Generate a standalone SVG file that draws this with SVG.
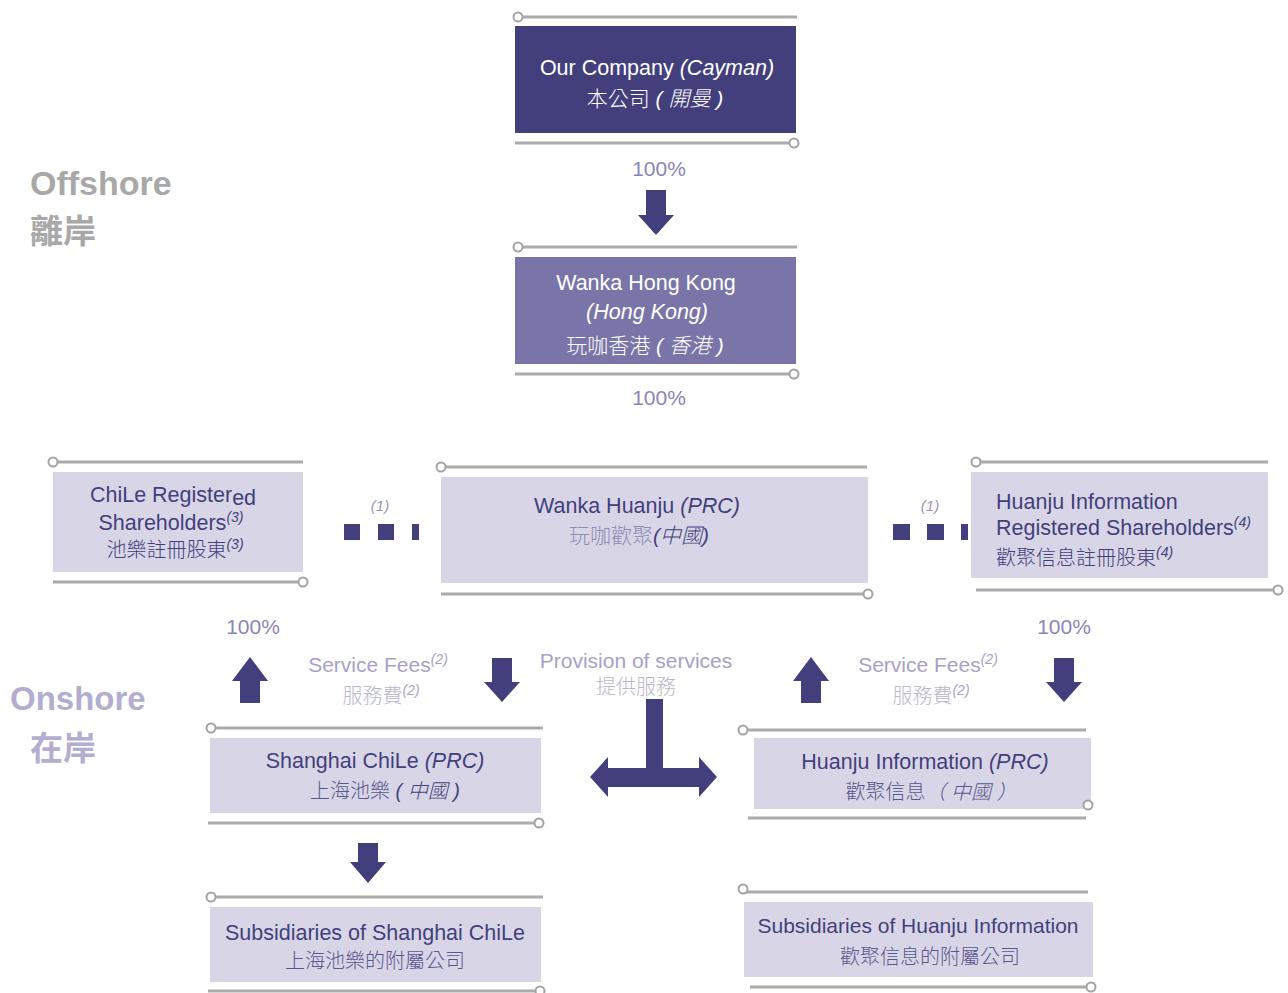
<svg xmlns="http://www.w3.org/2000/svg" width="1288" height="993" viewBox="0 0 1288 993">
<style>
text{font-family:"Liberation Sans","Noto Sans CJK TC",sans-serif;}
.ln{stroke:#ababab;stroke-width:3;fill:none}
.dot{fill:#fff;stroke:#a3a3a3;stroke-width:2}
.dark{fill:#433f7d}
.box{fill:#d8d6e6}
.t{font-size:21.5px;fill:#433f7d;text-anchor:middle}
.tw{font-size:21.5px;fill:#fff;text-anchor:middle}
.cj{font-size:20px;fill:#5a5690;text-anchor:middle;font-weight:300}
.pct{font-size:21px;fill:#8a85b9;text-anchor:middle}
.lbl{font-size:21px;fill:#a6a1c9;text-anchor:middle}
.lblc{font-size:20px;fill:#b9b7c9;text-anchor:middle;font-weight:300}
.sup{font-size:14px;font-style:italic}
.arr{fill:#433f7d}
.i{font-style:italic}
</style>

<g id="region-labels">
<text x="30" y="195" font-size="34" font-weight="bold" fill="#a8a8a8">Offshore</text>
<text x="30" y="243" font-size="33" font-weight="bold" fill="#a8a8a8">離岸</text>
<text x="10" y="710" font-size="33" font-weight="bold" fill="#b3aed0">Onshore</text>
<text x="30" y="760" font-size="33" font-weight="bold" fill="#b3aed0">在岸</text>
</g>

<g id="node-our-company">
<line class="ln" x1="518" y1="17" x2="797" y2="17"/><circle class="dot" cx="518" cy="17" r="4.5"/>
<rect x="515" y="26" width="281" height="107" fill="#433f7d"/>
<line class="ln" x1="515" y1="143" x2="794" y2="143"/><circle class="dot" cx="794" cy="143" r="4.5"/>
<text class="tw" x="657" y="75">Our Company <tspan class="i">(Cayman)</tspan></text>
<text class="tw" x="655" y="106" style="font-weight:300;font-size:21px">本公司<tspan class="i"> ( 開曼 )</tspan></text>
</g>

<g id="node-wanka-hk">
<line class="ln" x1="518" y1="247" x2="797" y2="247"/><circle class="dot" cx="518" cy="247" r="4.5"/>
<rect x="515" y="257" width="281" height="107" fill="#7a75a8"/>
<line class="ln" x1="515" y1="374" x2="794" y2="374"/><circle class="dot" cx="794" cy="374" r="4.5"/>
<text class="tw" x="646" y="290">Wanka Hong Kong</text>
<text class="tw" x="647" y="319"><tspan class="i">(Hong Kong)</tspan></text>
<text class="tw" x="645" y="353" style="font-weight:300;font-size:21px">玩咖香港<tspan class="i"> ( 香港 )</tspan></text>
</g>

<g id="node-chile-shareholders">
<line class="ln" x1="53" y1="462" x2="303" y2="462"/><circle class="dot" cx="53" cy="462" r="4.5"/>
<rect class="box" x="53" y="472" width="250" height="100"/>
<line class="ln" x1="53" y1="582" x2="303" y2="582"/><circle class="dot" cx="303" cy="582" r="4.5"/>
<text class="t" x="173" y="502">ChiLe Register<tspan dy="3">ed</tspan></text>
<text class="t" x="171" y="530">Shareholders<tspan class="sup" dy="-8">(3)</tspan></text>
<text class="t" x="175" y="557" style="font-size:20px;font-weight:300">池樂註冊股東<tspan class="sup" dy="-8">(3)</tspan></text>
</g>

<g id="node-wanka-huanju">
<line class="ln" x1="441" y1="467" x2="867" y2="467"/><circle class="dot" cx="441" cy="467" r="4.5"/>
<rect class="box" x="441" y="477" width="427" height="106"/>
<line class="ln" x1="441" y1="594" x2="866" y2="594"/><circle class="dot" cx="868" cy="594" r="4.5"/>
<text class="t" x="637" y="513">Wanka Huanju <tspan class="i">(PRC)</tspan></text>
<text class="cj" x="639" y="543" style="fill:#8f8bb5;font-size:21px">玩咖歡聚<tspan class="i" style="fill:#433f7d">(中國)</tspan></text>
</g>

<g id="node-huanju-shareholders">
<line class="ln" x1="976" y1="462" x2="1268" y2="462"/><circle class="dot" cx="976" cy="462" r="4.5"/>
<rect class="box" x="971" y="472" width="297" height="106"/>
<line class="ln" x1="976" y1="590" x2="1276" y2="590"/><circle class="dot" cx="1278" cy="590" r="4.5"/>
<text class="t" x="996" y="509" style="text-anchor:start">Huanju Information</text>
<text class="t" x="996" y="535" style="text-anchor:start">Registered Shareholders<tspan class="sup" dy="-8">(4)</tspan></text>
<text class="t" x="996" y="565" style="text-anchor:start;font-size:20px;font-weight:300">歡聚信息註冊股東<tspan class="sup" dy="-8">(4)</tspan></text>
</g>

<g id="node-shanghai-chile">
<line class="ln" x1="211" y1="728" x2="543" y2="728"/><circle class="dot" cx="211" cy="728" r="4.5"/>
<rect class="box" x="210" y="738" width="331" height="75"/>
<line class="ln" x1="208" y1="823" x2="537" y2="823"/><circle class="dot" cx="539" cy="823" r="4.5"/>
<text class="t" x="375" y="768">Shanghai ChiLe <tspan class="i">(PRC)</tspan></text>
<text class="cj" x="385" y="798">上海池樂<tspan class="i" style="fill:#433f7d"> ( 中國 )</tspan></text>
</g>

<g id="node-huanju-info">
<line class="ln" x1="743" y1="730" x2="1086" y2="730"/><circle class="dot" cx="743" cy="730" r="4.5"/>
<rect class="box" x="754" y="738" width="337" height="71"/>
<circle class="dot" cx="1088" cy="805" r="4.5"/>
<line class="ln" x1="748" y1="818" x2="1086" y2="818"/>
<text class="t" x="925" y="769">Huanju Information <tspan class="i">(PRC)</tspan></text>
<text class="cj" x="931" y="799">歡聚信息<tspan class="i">（ 中國 ）</tspan></text>
</g>

<g id="node-subs-shanghai">
<line class="ln" x1="211" y1="897" x2="543" y2="897"/><circle class="dot" cx="211" cy="897" r="4.5"/>
<rect class="box" x="210" y="907" width="331" height="75"/>
<line class="ln" x1="208" y1="991" x2="538" y2="991"/><circle class="dot" cx="540" cy="991" r="4.5"/>
<text class="t" x="375" y="940">Subsidiaries of Shanghai ChiLe</text>
<text class="cj" x="375" y="968">上海池樂的附屬公司</text>
</g>

<g id="node-subs-huanju">
<line class="ln" x1="743" y1="892" x2="1088" y2="892"/><circle class="dot" cx="743" cy="889" r="4.5"/>
<rect class="box" x="744" y="902" width="349" height="75"/>
<line class="ln" x1="750" y1="987" x2="1088" y2="987"/><circle class="dot" cx="1091" cy="987" r="4.5"/>
<text class="t" x="918" y="933" style="font-size:21px">Subsidiaries of Huanju Information</text>
<text class="cj" x="930" y="964">歡聚信息的附屬公司</text>
</g>

<g id="connectors">
<text class="pct" x="659" y="176">100%</text>
<polygon class="arr" points="646,190 666,190 666,215 674,215 656,235 638,215 646,215"/>
<text class="pct" x="659" y="405">100%</text>

<rect class="arr" x="344" y="524" width="16" height="16"/>
<rect class="arr" x="378" y="524" width="16" height="16"/>
<rect class="arr" x="412" y="524" width="7" height="16"/>
<text x="380" y="511" font-size="15" font-style="italic" fill="#9a96bf" text-anchor="middle">(1)</text>

<rect class="arr" x="893" y="524" width="17" height="16"/>
<rect class="arr" x="927" y="524" width="17" height="16"/>
<rect class="arr" x="961" y="524" width="7" height="16"/>
<text x="930" y="511" font-size="15" font-style="italic" fill="#9a96bf" text-anchor="middle">(1)</text>

<text class="pct" x="253" y="634">100%</text>
<text class="pct" x="1064" y="634">100%</text>

<polygon class="arr" points="250,657 268,681 260,681 260,703 240,703 240,681 232,681"/>
<polygon class="arr" points="492,658 512,658 512,682 520,682 502,702 484,682 492,682"/>
<text class="lbl" x="378" y="672">Service Fees<tspan class="sup" dy="-8">(2)</tspan></text>
<text class="lblc" x="381" y="703">服務費<tspan class="sup" dy="-8" style="fill:#a6a1c9">(2)</tspan></text>

<polygon class="arr" points="811,657 829,681 821,681 821,703 801,703 801,681 793,681"/>
<polygon class="arr" points="1054,658 1074,658 1074,682 1082,682 1064,702 1046,682 1054,682"/>
<text class="lbl" x="928" y="672">Service Fees<tspan class="sup" dy="-8">(2)</tspan></text>
<text class="lblc" x="931" y="703">服務費<tspan class="sup" dy="-8" style="fill:#a6a1c9">(2)</tspan></text>

<text class="lbl" x="636" y="668">Provision of services</text>
<text class="lblc" x="636" y="694">提供服務</text>
<polygon class="arr" points="646,699 663,699 663,768 699,768 699,757 717,777 699,797 699,787 608,787 608,797 590,777 608,757 608,768 646,768"/>

<polygon class="arr" points="358,843 378,843 378,862 386,862 368,883 350,862 358,862"/>
</g>
</svg>
